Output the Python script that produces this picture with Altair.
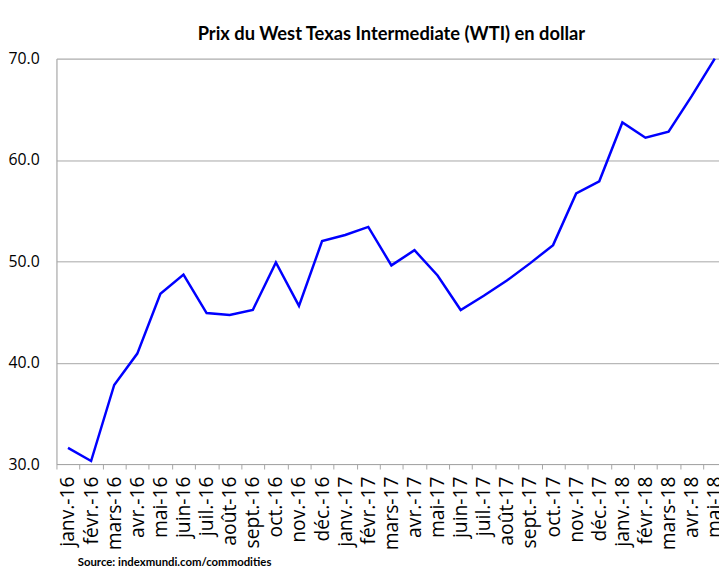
import altair as alt
import pandas as pd

months = ["janv.-16", "févr.-16", "mars-16", "avr.-16", "mai-16", "juin-16",
          "juil.-16", "août-16", "sept.-16", "oct.-16", "nov.-16", "déc.-16",
          "janv.-17", "févr.-17", "mars-17", "avr.-17", "mai-17", "juin-17",
          "juil.-17", "août-17", "sept.-17", "oct.-17", "nov.-17", "déc.-17",
          "janv.-18", "févr.-18", "mars-18", "avr.-18", "mai-18"]
prices = [31.6, 30.3, 37.8, 40.9, 46.8, 48.7, 44.9, 44.7, 45.2, 49.9, 45.6, 52.0,
          52.6, 53.4, 49.6, 51.1, 48.6, 45.2, 46.6, 48.1, 49.8, 51.6, 56.7, 57.9,
          63.7, 62.2, 62.8, 66.3, 70.0]
y_ticks = [30, 40, 50, 60, 70]

df = pd.DataFrame({"mois": months, "prix": prices})

grey = "#a6a6a6"

chart = alt.Chart(df).mark_line(color="#0000ff", strokeWidth=2.5).encode(
    x=alt.X("mois:N", sort=months,
            scale=alt.Scale(type="band", paddingInner=0, paddingOuter=0),
            axis=alt.Axis(title="Source: indexmundi.com/commodities",
                          titleFont="Lato", titleFontSize=11.5, titleFontWeight="bold",
                          titleColor="#000000", titleX=21, titleY=103,
                          titleAlign="left", titleBaseline="alphabetic", titleAnchor="start",
                          labelAngle=-90, labelAlign="right", labelBaseline="middle",
                          labelFont="Open Sans", labelFontSize=19.5, labelColor="#000000",
                          labelPadding=7, tickBand="extent", tickSize=5,
                          tickColor=grey, domainColor=grey, grid=False,
                          labelOverlap=False)),
    y=alt.Y("prix:Q", scale=alt.Scale(domain=[30, 70], nice=False, zero=False),
            axis=alt.Axis(title=None, values=y_ticks, format=".1f",
                          labelFont="Open Sans", labelFontSize=16, labelColor="#000000",
                          labelAlign="left", labelBaseline="middle", labelFlush=False,
                          labelPadding=49, ticks=False, tickSize=0,
                          domainColor=grey, gridColor=grey, gridWidth=1)),
).properties(
    width=677.4,
    height=410,
    title=alt.TitleParams("Prix du West Texas Intermediate (WTI) en dollar",
                          font="Lato", fontSize=18.5, fontWeight="bold",
                          color="#000000", offset=7, anchor="middle"),
    autosize=alt.AutoSizeParams(type="none"),
    padding={"left": 49, "top": 48, "right": -7.4, "bottom": 110},
).configure_view(stroke=None).configure(background="white")

chart.save("out.html", embed_options={"renderer": "svg", "actions": False})
